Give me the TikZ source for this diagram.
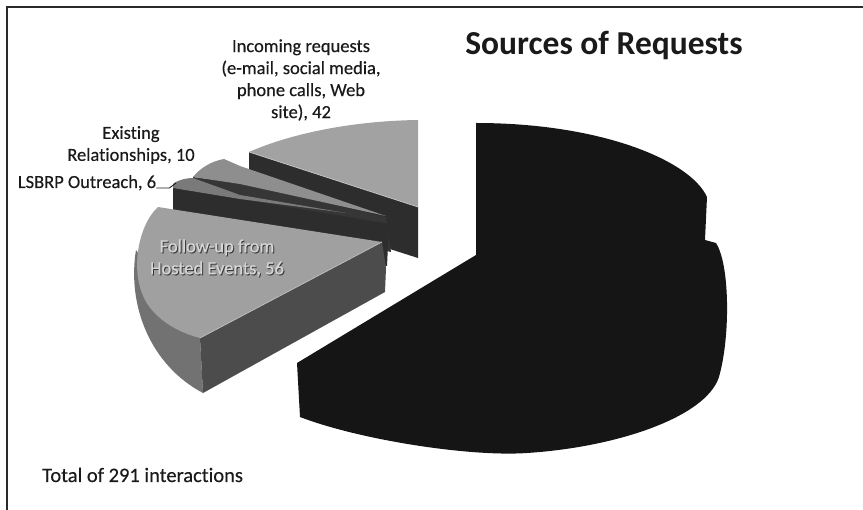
\documentclass[tikz,border=0pt]{standalone}
\usepackage{fontspec}
\setmainfont[Ligatures=NoCommon]{Carlito}
\newfontfamily\chartfont[Ligatures=NoCommon, FakeBold=0.35]{Carlito}
\definecolor{ink}{HTML}{1A1A1A}
\definecolor{frameline}{HTML}{2A2A2A}
\definecolor{bigslice}{HTML}{151515}
\definecolor{cutdark}{HTML}{2D2D2D}
\definecolor{cutmid}{HTML}{363636}
\definecolor{inctop}{HTML}{A2A2A2}
\definecolor{extop}{HTML}{8E8E8E}
\definecolor{lstop}{HTML}{7A7A7A}
\definecolor{futop}{HTML}{A0A0A0}
\definecolor{fufront}{HTML}{4C4C4C}
\definecolor{fuside}{HTML}{727272}
\definecolor{fulight}{HTML}{D6D6D6}
\definecolor{fushadow}{HTML}{3A3A3A}
\definecolor{edgelight}{HTML}{C4C4C4}
\begin{document}
\begin{tikzpicture}[x=1pt,y=-1pt,
  lbl/.style={inner sep=0pt, font=\chartfont\fontsize{18.5}{22}\selectfont, text=ink, align=center},
  edgehl/.style={draw=edgelight, line width=0.7pt}]
\useasboundingbox (0,0) rectangle (863,510);
\fill[white] (0,0) rectangle (863,510);

% frame of the chart area
\draw[frameline, line width=1.5pt] (7,510) -- (7,7) -- (863,7);

% --- Incoming requests (42) ---
\fill[cutdark] (249,152) -- (418,207) -- (418,258) -- (249,204) -- cycle;
\fill[inctop] (249,152) .. controls (290,134) and (350,121) .. (418,120) -- (418,207) -- cycle;
\draw[edgehl] (249,152) -- (418,207);

% --- Existing relationships (10) ---
\fill[cutmid] (193,177) -- (240,183) -- (386,217) -- (391,252) -- (193,205) -- cycle;
\fill[extop] (193,177) .. controls (200,168) and (212,161) .. (224,159) -- (240,166) -- (386,216) -- (240,184) -- cycle;

% --- LSBRP outreach (6) ---
\fill[cutdark] (173,187) -- (240,199) -- (389,224) -- (387,266) -- (173,216) -- cycle;
\fill[lstop] (173,184) .. controls (176,181) and (185,178) .. (193,178) -- (240,195) -- (346,213) -- (240,199) -- (173,188) -- cycle;

% --- Follow-up from hosted events (56) ---
\fill[fuside] (136,250) .. controls (127,305) and (150,365) .. (203,393) -- (200,338) -- cycle;
\fill[futop] (158,207) .. controls (138,225) and (128,275) .. (148,305)
  .. controls (160,322) and (180,333) .. (200,338) -- (382,242) -- cycle;
\fill[fufront] (200,338) -- (382,242) -- (386,268) -- (385,292) -- (203,393) -- cycle;
\draw[edgehl] (200,338) -- (382,242);

% --- remaining large slice ---
\fill[bigslice] (476,123) .. controls (600,123) and (690,160) .. (707,197)
  -- (705,240) -- (716,243)
  .. controls (730,265) and (730,335) .. (720,373)
  .. controls (712,415) and (620,447) .. (527,453)
  .. controls (470,457) and (360,440) .. (300,417)
  -- (297,363) -- (476,255) -- cycle;

% --- labels ---
\node[font=\bfseries\fontsize{33.5}{40}\selectfont, text=ink, anchor=base, inner sep=0pt] (title) at (604,55) {Sources of Requests};
\node[lbl] (inc) at (301,80) {Incoming requests\\(e-mail, social media,\\phone calls, Web\\site), 42};
\node[lbl] (exi) at (131,145) {Existing\\Relationships, 10};
\node[lbl, anchor=base] (lsb) at (87,188) {LSBRP Outreach, 6};
\coordinate (lsbtip) at (176,183);
\draw[ink, line width=0.9pt] (lsb.base east) -- ++(13,0) -- (lsbtip);
\node[lbl, text=fushadow] (fushade) at (218,259) {Follow-up from\\Hosted Events, 56};
\node[lbl, text=fulight] (fulabel) at (217,258) {Follow-up from\\Hosted Events, 56};
\node[font=\chartfont\fontsize{20.5}{24}\selectfont, text=ink, anchor=base west, inner sep=0pt] (total) at (42,482) {Total of 291 interactions};
\end{tikzpicture}
\end{document}
